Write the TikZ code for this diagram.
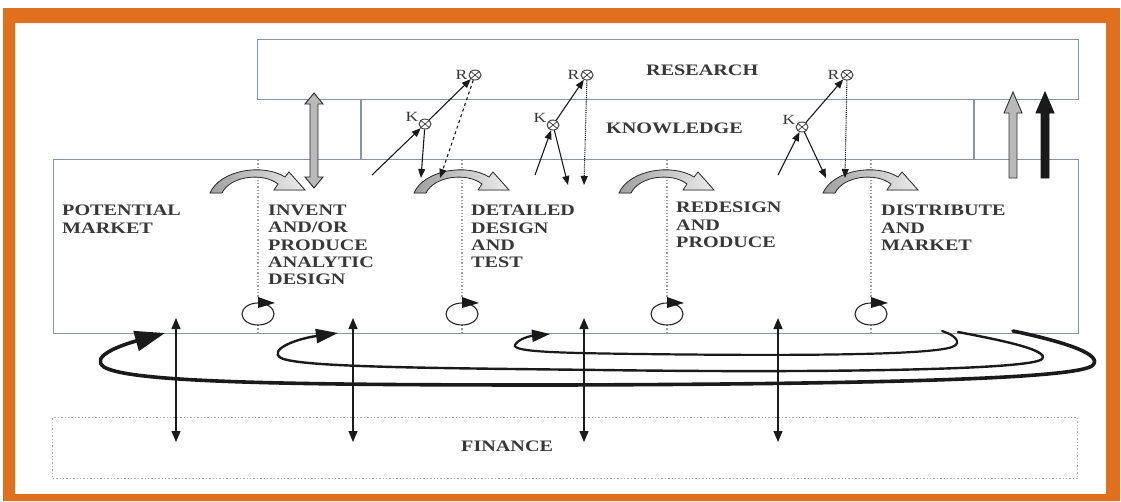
\documentclass[tikz,border=0pt]{standalone}
\usepackage{fontspec}
\setmainfont{Liberation Serif}
\newfontfamily\lblfont[FakeStretch=1.26]{Liberation Serif}
\usetikzlibrary{arrows.meta,shapes.geometric}

\definecolor{frameorange}{HTML}{E0701E}
\definecolor{boxline}{HTML}{8A93A3}
\definecolor{inkgray}{HTML}{383838}
\definecolor{loopink}{HTML}{1A1A1A}

\begin{document}
\begin{tikzpicture}[x=1pt,y=-1pt,
  lbl/.style={font=\lblfont\bfseries\fontsize{16}{17.3}\selectfont, text=inkgray,
              align=left, anchor=north west, inner sep=0pt},
  small/.style={font=\lblfont\fontsize{14}{16}\selectfont, text=inkgray, inner sep=0pt},
  region/.style={draw=boxline, line width=1.4pt, inner sep=0pt, anchor=north west},
  otimes/.style={ellipse, draw=inkgray, line width=0.9pt, minimum width=12pt,
                 minimum height=10pt, inner sep=0pt,
                 path picture={\draw[inkgray, line width=0.7pt]
                   (path picture bounding box.north west) -- (path picture bounding box.south east)
                   (path picture bounding box.north east) -- (path picture bounding box.south west);}},
  tip/.style={-{Triangle[length=9pt,width=7pt]}},
  kline/.style={draw=loopink, line width=1.1pt},
  divider/.style={draw=gray!75, line width=1.3pt, dotted},
  swoosh/.style={draw=gray!35!black, line width=0.8pt, left color=gray!75, right color=gray!15},
  fatarrow/.style={line width=0.9pt, line join=miter},
  looparrow/.style={draw=loopink, line cap=round}
]
\useasboundingbox (0,0) rectangle (1121,501);
\fill[white] (0,0) rectangle (1121,501);

% orange frame
\fill[frameorange, even odd rule] (3,8) rectangle (1120,501) (15,23) rectangle (1106,494);

% research band, knowledge band, main process box, finance band
\node[region, minimum width=821pt, minimum height=60pt] (research) at (257,39) {};
\node[region, minimum width=1025pt, minimum height=174pt] (main) at (53,159) {};
\node[region, draw=boxline!80, dotted, minimum width=1025pt, minimum height=61pt] (finance) at (52,417) {};
\coordinate (kl) at (361,99);
\coordinate (kr) at (974,99);
\draw[boxline, line width=1.4pt] (kl) -- (kl |- main.north) (kr) -- (kr |- main.north);

% band titles
\node[lbl] (researchtxt) at (646,65) {RESEARCH};
\node[lbl] (knowledgetxt) at (606,123) {KNOWLEDGE};
\node[lbl] (financetxt) at (461,441) {FINANCE};

% stage labels
\node[lbl] (pm) at (62,205) {POTENTIAL\\MARKET};
\node[lbl] (ip) at (268,205) {INVENT\\AND/OR\\PRODUCE\\ANALYTIC\\DESIGN};
\node[lbl] (dd) at (471,205) {DETAILED\\DESIGN\\AND\\TEST};
\node[lbl] (rp) at (676,202) {REDESIGN\\AND\\PRODUCE};
\node[lbl] (dm) at (881,205) {DISTRIBUTE\\AND\\MARKET};

% stage dividers with their cycle marks and transition swooshes
\foreach \d/\n in {258/1,462/2,667/3,871/4}{
  \coordinate (s\n top) at (\d,160);
  \coordinate (s\n mid) at (\d,298);
  \coordinate (s\n low) at (\d,325);
  \coordinate (s\n bot) at (\d,333);
  \draw[divider] (s\n top) -- (s\n mid) (s\n low) -- (s\n bot);
  \draw[gray!30!black, line width=1.1pt] (\d,314) ellipse [x radius=16, y radius=11];
  \fill[loopink] (\d,297) -- (\d+17,303) -- (\d,308) -- cycle;
  \begin{scope}[shift={(\d,0)}]
    \filldraw[swoosh] (-48,193) .. controls (-38,170) and (5,163) .. (27,177)
      -- (31,172) -- (47,190) -- (16,190) -- (20,184)
      .. controls (5,172) and (-28,176) .. (-36,193) -- cycle;
  \end{scope}
}

% research <-> invent double arrow
\filldraw[fatarrow, fill=gray!55, draw=gray!30!black]
  (314,93) -- (323,104) -- (318,104) -- (318,177) -- (323,177) -- (314,188)
  -- (305,177) -- (310,177) -- (310,104) -- (305,104) -- cycle;

% upward arrows on the right
\filldraw[fatarrow, fill=gray!55, draw=gray!40!black]
  (1013,92) -- (1022,113) -- (1017,113) -- (1017,178) -- (1009,178) -- (1009,113) -- (1004,113) -- cycle;
\filldraw[fatarrow, fill=loopink, draw=loopink]
  (1045,92) -- (1054,113) -- (1049,113) -- (1049,178) -- (1041,178) -- (1041,113) -- (1036,113) -- cycle;

% knowledge / research links
\node[otimes] (r1) at (475,75) {};
\node[small, anchor=east] (r1t) at ([xshift=-1pt]r1.west) {R};
\node[otimes] (k1) at (425,124) {};
\node[small, anchor=base east] (k1t) at ([yshift=3pt]k1.west) {K};
\coordinate (a1) at (372,175);
\coordinate (b1) at (421,178);
\coordinate (c1) at (440,178);
\draw[kline, tip] (a1) -- (k1);
\draw[kline, tip] (k1) -- (r1);
\draw[kline, tip] (k1) -- (b1);
\draw[kline, tip, dashed] (r1) -- (c1);

\node[otimes] (r2) at (587,75) {};
\node[small, anchor=east] (r2t) at ([xshift=-1pt]r2.west) {R};
\node[otimes] (k2) at (553,125) {};
\node[small, anchor=base east] (k2t) at ([yshift=3pt]k2.west) {K};
\coordinate (a2) at (535,175);
\coordinate (b2) at (568,185);
\coordinate (c2) at (584,185);
\draw[kline, tip] (a2) -- (k2);
\draw[kline, tip] (k2) -- (r2);
\draw[kline, tip] (k2) -- (b2);
\draw[kline, tip, densely dotted] (r2) -- (c2);

\node[otimes] (r3) at (847,75) {};
\node[small, anchor=east] (r3t) at ([xshift=-1pt]r3.west) {R};
\node[otimes] (k3) at (802,127) {};
\node[small, anchor=base east] (k3t) at ([yshift=3pt]k3.west) {K};
\coordinate (a3) at (778,175);
\coordinate (b3) at (826,178);
\coordinate (c3) at (845,178);
\draw[kline, tip] (a3) -- (k3);
\draw[kline, tip] (k3) -- (r3);
\draw[kline, tip] (k3) -- (b3);
\draw[kline, tip, densely dotted] (r3) -- (c3);

% feedback loops from the market back to earlier stages
\coordinate (o1) at (1013,331);
\coordinate (o2) at (165,333);
\draw[looparrow, line width=3.6pt, -{Triangle[length=30pt,width=20pt]}]
  (o1) .. controls (1070,343) and (1102,355) .. (1093,365)
  .. controls (1082,378) and (900,384) .. (560,385)
  .. controls (300,385) and (130,383) .. (104,367)
  .. controls (90,357) and (118,346) .. (o2);

\coordinate (m1) at (958,332);
\coordinate (m2) at (338,333);
\draw[looparrow, line width=2.4pt, -{Triangle[length=22pt,width=14pt]}]
  (m1) .. controls (1000,340) and (1050,350) .. (1042,359)
  .. controls (1032,370) and (820,373) .. (600,370)
  .. controls (420,368) and (300,367) .. (281,358)
  .. controls (268,350) and (295,339) .. (m2);

\coordinate (n1) at (942,331);
\coordinate (n2) at (550,334);
\draw[looparrow, line width=2.2pt, -{Triangle[length=18pt,width=12pt]}]
  (n1) .. controls (955,335) and (963,343) .. (952,347)
  .. controls (930,355) and (800,356) .. (640,354)
  .. controls (560,353) and (512,352) .. (515,345)
  .. controls (518,339) and (530,336) .. (n2);

% finance links
\foreach \x/\n in {176/1,353/2,584/3,778/4}{
  \coordinate (f\n t) at (\x,318);
  \coordinate (f\n b) at (\x,442);
  \draw[kline, line width=1.2pt, {Triangle[length=11pt,width=9pt]}-{Triangle[length=11pt,width=9pt]}]
    (f\n t) -- (f\n b);
}
\end{tikzpicture}
\end{document}
